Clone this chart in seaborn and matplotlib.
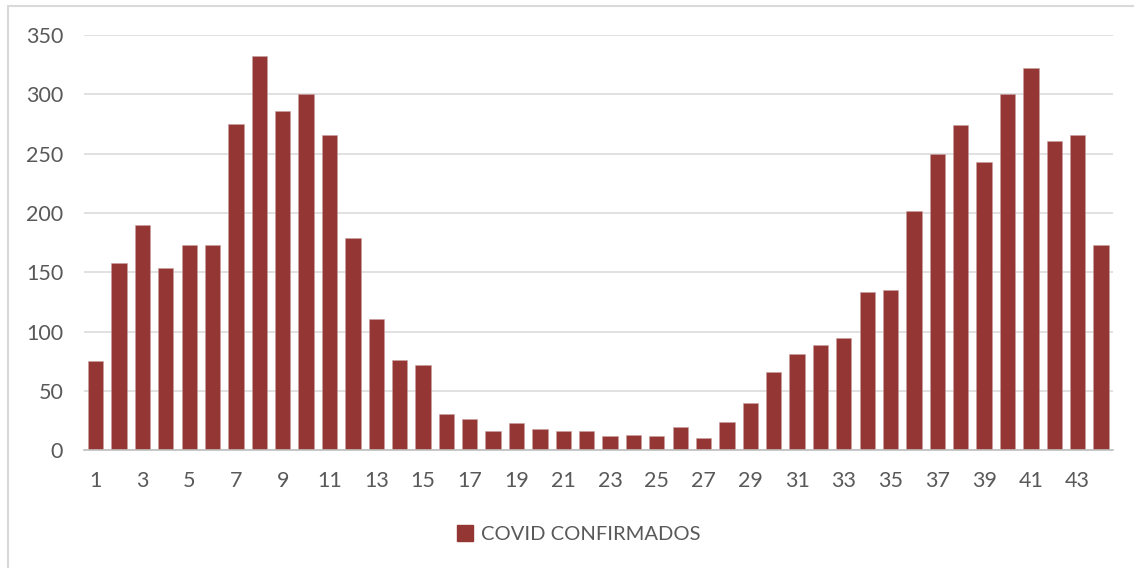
import pandas as pd
import seaborn as sns
import matplotlib.pyplot as plt
from matplotlib.patches import Rectangle, Patch

# semanas epidemiológicas y casos confirmados
semanas = list(range(1, 45))
confirmados = [75, 158, 190, 154, 173, 173, 275, 332, 286, 300,
               266, 179, 111, 76, 72, 31, 26, 16, 23, 18,
               16, 16, 12, 13, 12, 20, 10, 24, 40, 66,
               81, 89, 95, 133, 135, 202, 250, 274, 243, 300,
               322, 261, 266, 173]
serie = "COVID CONFIRMADOS"
y_ticks = [0, 50, 100, 150, 200, 250, 300, 350]

color_barra = "#943634"
color_texto = "#595959"

sns.set_theme(style="white")
plt.rcParams['font.family'] = ['Lato', 'DejaVu Sans']

df = pd.DataFrame({"semana": semanas, "casos": confirmados})

fig = plt.figure(figsize=(11.34, 5.68), dpi=100)
ax = fig.add_axes([84 / 1134, 1 - 450.3 / 568, (1112.7 - 84) / 1134, (450.3 - 35) / 568])

sns.barplot(data=df, x="semana", y="casos", color=color_barra, saturation=1,
            width=0.655, ax=ax, zorder=3)
for p in ax.patches:
    p.set_edgecolor("#c9a0a0")
    p.set_linewidth(0.4)

ax.set_xlim(-0.5, len(semanas) - 0.5)
ax.set_ylim(0, 350)
ax.set_yticks(y_ticks)
ax.set_yticklabels([str(v) for v in y_ticks])
pos = list(range(0, len(semanas), 2))
ax.set_xticks(pos)
ax.set_xticklabels([str(semanas[i]) for i in pos])

ax.grid(axis="y", color="#d9d9d9", linewidth=1.1, zorder=0)
for s in ["top", "right", "left"]:
    ax.spines[s].set_visible(False)
ax.spines["bottom"].set_color("#bfbfbf")
ax.spines["bottom"].set_linewidth(1.2)
ax.spines["bottom"].set_zorder(4)

ax.tick_params(axis="both", length=0, labelsize=15.5, colors=color_texto)
ax.tick_params(axis="x", pad=15)
ax.tick_params(axis="y", pad=15)
ax.set_xlabel("")
ax.set_ylabel("")

# leyenda
handle = Patch(facecolor=color_barra, edgecolor=color_barra)
leg = fig.legend([handle], [serie], loc="center", bbox_to_anchor=(579 / 1134, 1 - 534 / 568),
                 frameon=False, fontsize=14.5, handlelength=0.8, handleheight=0.8,
                 handletextpad=0.4)
for t in leg.get_texts():
    t.set_color(color_texto)

# borde del área del gráfico
fig.patches.append(Rectangle((7.5 / 1134, -0.1), 2, 1 - 6 / 568 + 0.1,
                             transform=fig.transFigure, fill=False,
                             edgecolor="#d9d9d9", linewidth=1.5))

fig.savefig("out.png", dpi=100)
